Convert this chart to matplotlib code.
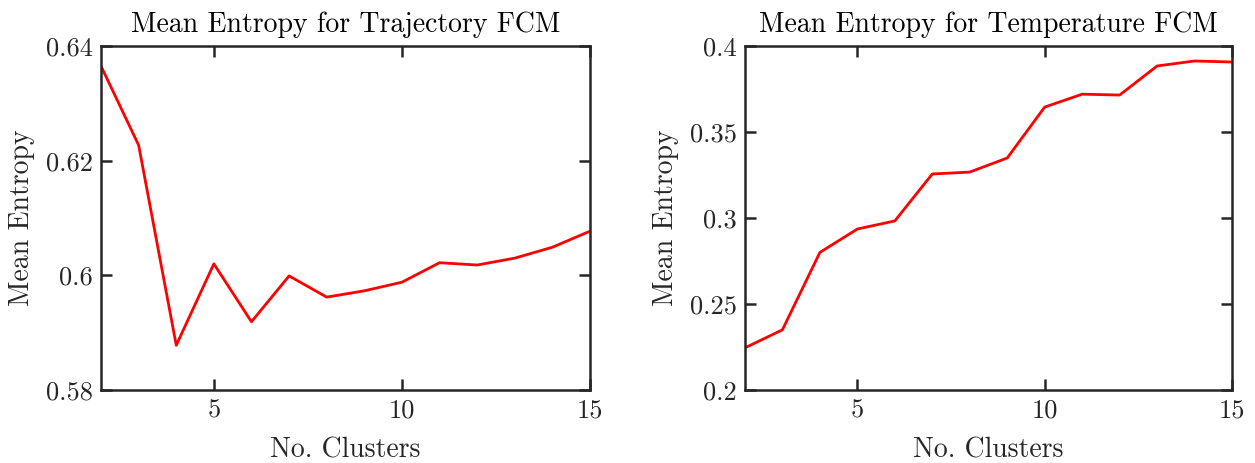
import matplotlib
matplotlib.use('Agg')
import matplotlib.pyplot as plt

clusters = [2, 3, 4, 5, 6, 7, 8, 9, 10, 11, 12, 13, 14, 15]
traj_entropy = [0.6365, 0.6227, 0.5878, 0.6020, 0.5919, 0.5999, 0.5962,
                0.5973, 0.5988, 0.6022, 0.6018, 0.6030, 0.6049, 0.6077]
temp_entropy = [0.2245, 0.2350, 0.2800, 0.2936, 0.2983, 0.3256, 0.3267,
                0.3349, 0.3645, 0.3720, 0.3715, 0.3884, 0.3913, 0.3907]

plt.rcParams['font.family'] = 'cmr10'
plt.rcParams['mathtext.fontset'] = 'cm'
plt.rcParams['axes.formatter.use_mathtext'] = True
axcol = '#262626'

fig = plt.figure(figsize=(12.55, 4.63), dpi=100)
ax1 = fig.add_axes([0.0805, 0.1577, 0.3896, 0.7429])
ax2 = fig.add_axes([0.5936, 0.1577, 0.3881, 0.7429])

def style(ax, title, yticks, ylabels, ylim):
    ax.set_xlim(2, 15)
    ax.set_ylim(*ylim)
    ax.set_xticks([5, 10, 15])
    ax.set_xticklabels(['5', '10', '15'])
    ax.set_yticks(yticks)
    ax.set_yticklabels(ylabels)
    ax.tick_params(direction='in', top=True, right=True, length=8, width=1.8,
                   colors=axcol, labelsize=19, pad=6)
    for s in ax.spines.values():
        s.set_linewidth(1.8)
        s.set_color(axcol)
    ax.set_title(title, fontsize=20, color='black', pad=10)
    ax.set_xlabel('No. Clusters', fontsize=20, color=axcol, labelpad=11)
    ax.set_ylabel('Mean Entropy', fontsize=20, color=axcol, labelpad=8)

ax1.plot(clusters, traj_entropy, color='red', lw=2)
style(ax1, 'Mean Entropy for Trajectory FCM', [0.58, 0.60, 0.62, 0.64],
      ['0.58', '0.6', '0.62', '0.64'], (0.58, 0.64))

ax2.plot(clusters, temp_entropy, color='red', lw=2)
style(ax2, 'Mean Entropy for Temperature FCM', [0.2, 0.25, 0.3, 0.35, 0.4],
      ['0.2', '0.25', '0.3', '0.35', '0.4'], (0.2, 0.4))

fig.savefig('out.png', dpi=100)
